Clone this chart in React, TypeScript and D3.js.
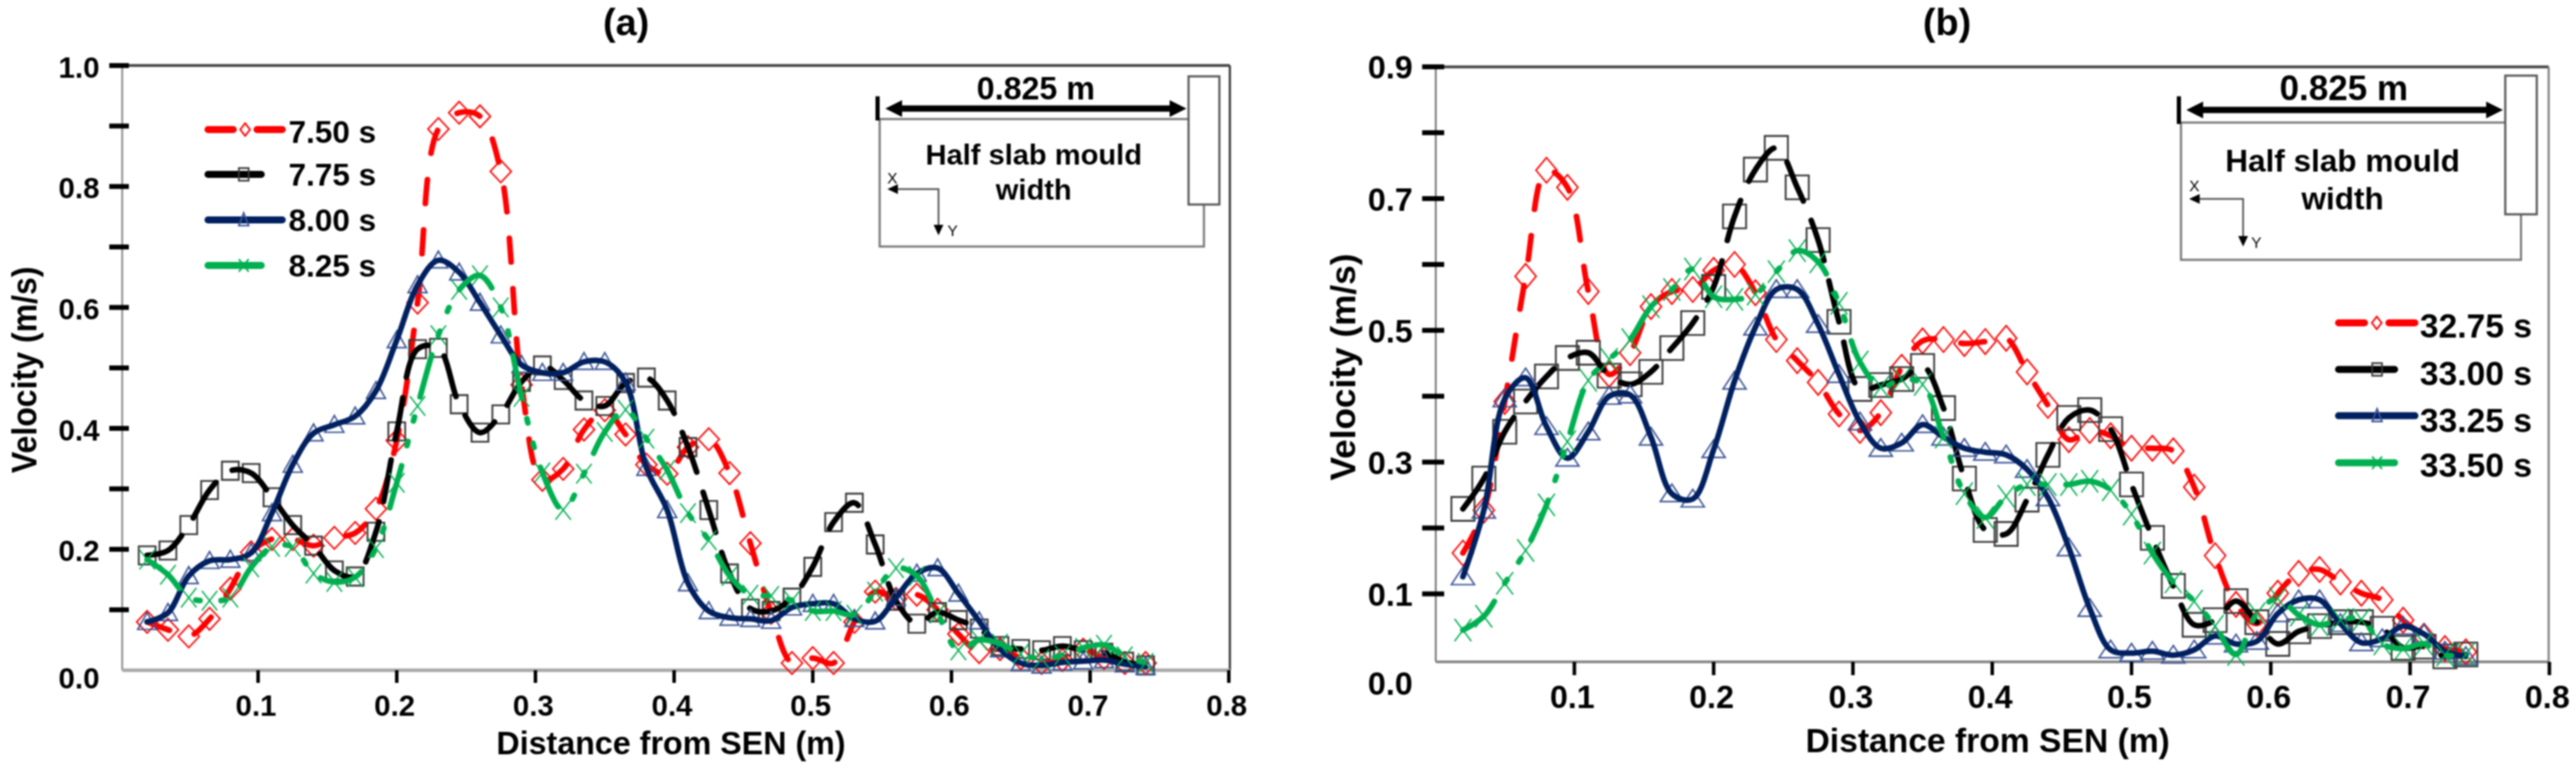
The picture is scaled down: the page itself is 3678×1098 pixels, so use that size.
import React from "react";
import * as d3 from "d3";

// ---------- data ----------
const distance = [0.02,0.035,0.05,0.065,0.08,0.095,0.11,0.125,0.14,0.155,0.17,0.185,0.2,0.215,0.23,0.245,0.26,0.275,0.29,0.305,0.32,0.335,0.35,0.365,0.38,0.395,0.41,0.425,0.44,0.455,0.47,0.485,0.5,0.515,0.53,0.545,0.56,0.575,0.59,0.605,0.62,0.635,0.65,0.665,0.68,0.695,0.71,0.725,0.74];

const a750 = [0.08,0.067,0.056,0.085,0.135,0.195,0.217,0.217,0.206,0.219,0.227,0.267,0.38,0.608,0.895,0.922,0.916,0.825,0.472,0.315,0.333,0.398,0.43,0.39,0.34,0.325,0.369,0.382,0.326,0.21,0.095,0.012,0.02,0.012,0.08,0.13,0.118,0.125,0.1,0.06,0.03,0.035,0.02,0.012,0.017,0.034,0.02,0.012,0.012];
const a775 = [0.19,0.198,0.24,0.298,0.33,0.326,0.286,0.24,0.206,0.165,0.155,0.229,0.395,0.531,0.533,0.44,0.393,0.423,0.477,0.504,0.48,0.446,0.437,0.475,0.484,0.446,0.369,0.265,0.16,0.102,0.098,0.12,0.171,0.245,0.277,0.208,0.115,0.077,0.096,0.083,0.069,0.04,0.035,0.033,0.04,0.033,0.029,0.014,0.008];
const a800 = [0.08,0.095,0.156,0.181,0.183,0.194,0.26,0.34,0.392,0.406,0.42,0.462,0.546,0.637,0.678,0.658,0.608,0.554,0.505,0.492,0.492,0.51,0.51,0.476,0.335,0.265,0.144,0.098,0.087,0.085,0.082,0.104,0.11,0.11,0.085,0.081,0.12,0.16,0.169,0.127,0.081,0.035,0.012,0.008,0.013,0.015,0.017,0.01,0.006];
const a825 = [0.183,0.158,0.12,0.115,0.12,0.17,0.204,0.204,0.16,0.146,0.154,0.202,0.31,0.437,0.554,0.629,0.653,0.6,0.452,0.327,0.265,0.325,0.394,0.431,0.383,0.331,0.26,0.215,0.156,0.125,0.123,0.115,0.098,0.098,0.092,0.13,0.169,0.156,0.094,0.033,0.05,0.044,0.027,0.019,0.025,0.037,0.042,0.023,0.012];

const b3275 = [0.162,0.227,0.392,0.582,0.743,0.717,0.559,0.433,0.466,0.536,0.559,0.562,0.591,0.6,0.557,0.486,0.454,0.421,0.373,0.348,0.375,0.444,0.484,0.486,0.48,0.483,0.488,0.437,0.386,0.334,0.348,0.34,0.321,0.321,0.317,0.262,0.158,0.084,0.055,0.101,0.131,0.137,0.118,0.101,0.091,0.06,0.036,0.017,0.012];
const b3300 = [0.229,0.275,0.346,0.392,0.43,0.458,0.466,0.431,0.418,0.437,0.473,0.511,0.566,0.673,0.744,0.777,0.717,0.637,0.513,0.411,0.417,0.426,0.446,0.382,0.275,0.197,0.191,0.243,0.311,0.367,0.379,0.35,0.266,0.185,0.112,0.053,0.06,0.089,0.057,0.024,0.043,0.051,0.057,0.057,0.047,0.018,0.02,0.005,0.008];
const b3325 = [0.126,0.227,0.396,0.428,0.354,0.306,0.346,0.4,0.402,0.338,0.252,0.244,0.319,0.423,0.505,0.562,0.562,0.509,0.433,0.361,0.321,0.329,0.357,0.338,0.321,0.315,0.311,0.289,0.246,0.17,0.078,0.015,0.01,0.013,0.007,0.015,0.036,0.024,0.028,0.07,0.091,0.091,0.055,0.026,0.032,0.051,0.039,0.013,0.005];
const b3350 = [0.045,0.066,0.116,0.166,0.235,0.331,0.424,0.456,0.486,0.536,0.562,0.593,0.551,0.547,0.555,0.589,0.621,0.604,0.541,0.452,0.414,0.426,0.418,0.338,0.252,0.216,0.248,0.266,0.266,0.266,0.271,0.258,0.221,0.162,0.118,0.089,0.051,0.008,0.07,0.093,0.068,0.053,0.061,0.061,0.024,0.017,0.024,0.007,0.008];

const xTicks = [0.1,0.2,0.3,0.4,0.5,0.6,0.7,0.8];
const aYTicks = [0.1,0.2,0.3,0.4,0.5,0.6,0.7,0.8,0.9,1.0];
const aYLabels = [0,0.2,0.4,0.6,0.8,1.0];
const bYTicks = [0.1,0.2,0.3,0.4,0.5,0.6,0.7,0.8,0.9];
const bYLabels = [0,0.1,0.3,0.5,0.7,0.9];
const aNames = ["7.50 s","7.75 s","8.00 s","8.25 s"];
const bNames = ["32.75 s","33.00 s","33.25 s","33.50 s"];

// ---------- styles ----------
const FONT = "'Liberation Sans', Arial, sans-serif";
type Kind = "diamond" | "square" | "triangle" | "cross";
const styles: { kind: Kind; line: string; mark: string; dash: string; mw: number }[] = [
  { kind: "diamond", line: "#ff0000", mark: "#ff0000", dash: "34 38", mw: 2.2 },
  { kind: "square", line: "#000000", mark: "#3a3a3a", dash: "60 30", mw: 2.6 },
  { kind: "triangle", line: "#002060", mark: "#3c5596", dash: "", mw: 2.2 },
  { kind: "cross", line: "#00b050", mark: "#00b050", dash: "62 30 6 30 6 30", mw: 2 },
];

function markerPath(kind: Kind, w: number, h: number) {
  const a = w / 2, b = h / 2;
  if (kind === "diamond") return `M0,${-b}L${a},0L0,${b}L${-a},0Z`;
  if (kind === "square") return `M${-a},${-b}H${a}V${b}H${-a}Z`;
  if (kind === "triangle") return `M0,${-b * 1.1}L${a},${b * 0.9}H${-a}Z`;
  return `M${-a},${-b}L${a},${b}M${a},${-b}L${-a},${b}`;
}

type Layout = {
  title: string; titleX: number;
  x0: number; x8: number; y0: number; yTop: number; yMax: number;
  axisX: number; axisY: number; rightX: number; topY: number;
  axisColor: string; axisW: number; bottomColor: string; bottomW: number; rightColor: string;
  tickL: [number, number]; tickB: number; tickW: number;
  fs: number; labelRight: number; zeroBase: number; xBase: number;
  yTicks: number[]; yLabels: number[]; series: number[][]; names: string[];
  xTitleX: number; xTitleBase: number; xTitleFs: number;
  yTitleX: number; yTitleY: number; yTitleFs: number; yTitleLen: number;
  legendLine: [number, number]; legendShort: number; legendTextX: number; legendFs: number;
  legendY: number[]; legendBase: number[]; legendMarkX: number;
  sizes: Record<Kind, [number, number]>;
  inset: {
    l: number; t: number; b: number; r: number; rx0: number; rx1: number; ry0: number; ry1: number;
    barTop: number; ay: number; ax0: number; ax1: number; tx: number; t1: number; t2: number; t3: number; t2x: number; fs: number; fsTop: number;
    xx: number; xBase: number; cy: number; cx: number; hx: number; hy: number; yx: number; yBase: number;
  };
};

const layoutA: Layout = {
  title: "(a)", titleX: 894,
  x0: 170.5, x8: 1754.5, y0: 957, yTop: 93.6, yMax: 1.0,
  axisX: 174.5, axisY: 957, rightX: 1756, topY: 93.6,
  axisColor: "#9a9a9a", axisW: 3, bottomColor: "#a8a8a8", bottomW: 5, rightColor: "#333",
  tickL: [156, 184], tickB: 975, tickW: 5,
  fs: 42, labelRight: 142, zeroBase: 983, xBase: 1022,
  yTicks: aYTicks, yLabels: aYLabels, series: [a750, a775, a800, a825], names: aNames,
  xTitleX: 958, xTitleBase: 1077, xTitleFs: 46,
  yTitleX: 34, yTitleY: 528, yTitleFs: 50, yTitleLen: 295,
  legendLine: [297, 403], legendShort: 373, legendTextX: 412, legendFs: 45,
  legendY: [185, 249, 314, 379], legendBase: [204, 265, 330, 395], legendMarkX: 348,
  sizes: { diamond: [30, 32], square: [24, 26], triangle: [27, 24], cross: [22, 28] },
  inset: { l: 1256, t: 170, b: 352, r: 1718, rx0: 1697, rx1: 1741, ry0: 109, ry1: 292, barTop: 137.5, ay: 155, ax0: 1264, ax1: 1694, tx: 1479, t1: 142, t2: 235, t3: 285, t2x: 1476, fs: 41.5, fsTop: 46, xx: 1274, xBase: 262, cy: 270, cx: 1340, hx: 1267, hy: 336, yx: 1360, yBase: 337 },
};

const layoutB: Layout = {
  title: "(b)", titleX: 2780,
  x0: 2049, x8: 3640, y0: 942, yTop: 95.4, yMax: 0.9,
  axisX: 2050, axisY: 945, rightX: 3639, topY: 95.4,
  axisColor: "#707070", axisW: 2.5, bottomColor: "#8a8a8a", bottomW: 4, rightColor: "#808080",
  tickL: [2030.5, 2062], tickB: 964, tickW: 5,
  fs: 46, labelRight: 2017, zeroBase: 992, xBase: 1011,
  yTicks: bYTicks, yLabels: bYLabels, series: [b3275, b3300, b3325, b3350], names: bNames,
  xTitleX: 2838, xTitleBase: 1074, xTitleFs: 48,
  yTitleX: 1917, yTitleY: 524, yTitleFs: 50, yTitleLen: 324,
  legendLine: [3339, 3448], legendShort: 3419, legendTextX: 3455, legendFs: 48,
  legendY: [461, 527.5, 593.6, 660.7], legendBase: [482, 550, 617, 681], legendMarkX: 3394,
  sizes: { diamond: [30, 36], square: [33, 34], triangle: [33, 25], cross: [24, 32] },
  inset: { l: 3114, t: 175, b: 371, r: 3598, rx0: 3577, rx1: 3622, ry0: 108, ry1: 306, barTop: 137.5, ay: 157, ax0: 3121.6, ax1: 3573.7, tx: 3346.5, t1: 143, t2: 245, t3: 299, t2x: 3344.7, fs: 45, fsTop: 50, xx: 3133, xBase: 273, cy: 284, cx: 3202.7, hx: 3125.7, hy: 352, yx: 3221.6, yBase: 354 },
};

function Inset({ s }: { s: Layout["inset"] }) {
  const c = "#777";
  return (
    <g fontFamily={FONT} textAnchor="middle">
      <path d={`M${s.l},${s.t}H${s.rx0}M${s.l},${s.t}V${s.b}H${(s.rx0 + s.rx1) / 2}V${s.ry1}`} fill="none" stroke={c} strokeWidth={3} />
      <rect x={s.rx0} y={s.ry0} width={s.rx1 - s.rx0} height={s.ry1 - s.ry0} fill="#fff" stroke="#555" strokeWidth={3} />
      <line x1={s.l - 3} x2={s.l - 3} y1={s.barTop} y2={s.t + 2} stroke="#000" strokeWidth={6} />
      <line x1={s.ax0 + 18} x2={s.ax1 - 18} y1={s.ay} y2={s.ay} stroke="#000" strokeWidth={9} />
      <path d={`M${s.ax0},${s.ay}l24,-12v24ZM${s.ax1},${s.ay}l-24,-12v24Z`} fill="#000" />
      <text x={s.tx} y={s.t1} fontSize={s.fsTop} fontWeight={700}>0.825 m</text>
      <text x={s.t2x} y={s.t2} fontSize={s.fs} fontWeight={700}>Half slab mould</text>
      <text x={s.t2x} y={s.t3} fontSize={s.fs} fontWeight={700}>width</text>
      <text x={s.xx} y={s.xBase} fontSize={22}>X</text>
      <path d={`M${s.hx + 12},${s.cy}H${s.cx}V${s.hy - 12}`} fill="none" stroke="#555" strokeWidth={2.5} />
      <path d={`M${s.hx},${s.cy}l15,-7v14ZM${s.cx},${s.hy}l-7,-15h14Z`} fill="#000" />
      <text x={s.yx} y={s.yBase} fontSize={22}>Y</text>
    </g>
  );
}

function Panel({ p }: { p: Layout }) {
  const x = d3.scaleLinear().domain([0, 0.8]).range([p.x0, p.x8]);
  const y = d3.scaleLinear().domain([0, p.yMax]).range([p.y0, p.yTop]);
  const line = d3.line<number>()
    .x((_, i) => x(distance[i]))
    .y((d) => y(d))
    .curve(d3.curveCatmullRom.alpha(0.5));
  return (
    <g fontFamily={FONT} fill="#000">
      <text x={p.titleX} y={50} fontSize={54} fontWeight={700} textAnchor="middle">{p.title}</text>

      <line x1={p.axisX} x2={p.rightX} y1={p.topY} y2={p.topY} stroke="#444" strokeWidth={4} />
      <line x1={p.rightX} x2={p.rightX} y1={p.topY} y2={p.axisY} stroke={p.rightColor} strokeWidth={3} />
      <line x1={p.axisX} x2={p.axisX} y1={p.topY} y2={p.axisY} stroke={p.axisColor} strokeWidth={p.axisW} />
      <line x1={p.axisX} x2={p.rightX} y1={p.axisY} y2={p.axisY} stroke={p.bottomColor} strokeWidth={p.bottomW} />

      {p.yTicks.map((t) => (
        <line key={t} x1={p.tickL[0]} x2={p.tickL[1]} y1={y(t)} y2={y(t)} stroke="#000" strokeWidth={7} />
      ))}
      {xTicks.map((t) => (
        <g key={t}>
          <line x1={x(t)} x2={x(t)} y1={p.axisY} y2={p.tickB} stroke="#000" strokeWidth={p.tickW} />
          <text x={x(t) - 3} y={p.xBase} fontSize={p.fs} fontWeight={700} textAnchor="middle">{t.toFixed(1)}</text>
        </g>
      ))}
      {p.yLabels.map((t) => (
        <text key={t} x={p.labelRight} y={t === 0 ? p.zeroBase : y(t) + 17} fontSize={p.fs} fontWeight={700} textAnchor="end">{t.toFixed(1)}</text>
      ))}

      <text x={p.xTitleX} y={p.xTitleBase} fontSize={p.xTitleFs} fontWeight={700} textAnchor="middle">Distance from SEN (m)</text>
      <text transform={`translate(${p.yTitleX + p.yTitleFs * 0.36},${p.yTitleY}) rotate(-90)`} fontSize={p.yTitleFs} fontWeight={700} textAnchor="middle" textLength={p.yTitleLen} lengthAdjust="spacingAndGlyphs">Velocity (m/s)</text>

      {p.series.map((vals, k) => {
        const st = styles[k];
        const [w, h] = p.sizes[st.kind];
        const mark = markerPath(st.kind, w, h);
        return (
          <g key={k}>
            <g fill="none" stroke={st.mark} strokeWidth={st.mw}>
              {vals.map((v, i) => (
                <path key={i} d={mark} transform={`translate(${x(distance[i])},${y(v)})`} />
              ))}
            </g>
            <path d={line(vals) ?? ""} fill="none" stroke={st.line} strokeWidth={8} strokeDasharray={st.dash || undefined} strokeLinecap="round" strokeLinejoin="round" />
          </g>
        );
      })}

      {p.names.map((name, k) => {
        const st = styles[k];
        const end = st.kind === "square" || st.kind === "cross" ? p.legendShort : p.legendLine[1];
        const ly = p.legendY[k];
        const [lx0, lx1] = p.legendLine;
        const mx = st.kind === "diamond" ? (lx0 + lx1) / 2 : p.legendMarkX;
        return (
          <g key={name}>
            {st.kind === "diamond" ? (
              <path d={`M${lx0},${ly}H${lx0 + (lx1 - lx0) * 0.34}M${lx1 - (lx1 - lx0) * 0.34},${ly}H${lx1}`} stroke={st.line} strokeWidth={10} strokeLinecap="round" fill="none" />
            ) : (
              <line x1={lx0} x2={end} y1={ly} y2={ly} stroke={st.line} strokeWidth={10} strokeLinecap="round" />
            )}
            <path d={markerPath(st.kind, 14, 18)} transform={`translate(${mx},${ly})`} fill="none" stroke={st.mark} strokeWidth={2.4} />
            <text x={p.legendTextX} y={p.legendBase[k]} fontSize={p.legendFs} fontWeight={700}>{name}</text>
          </g>
        );
      })}

      <Inset s={p.inset} />
    </g>
  );
}

export default function App() {
  return (
    <svg width={3678} height={1098} viewBox="0 0 3678 1098" style={{ position: "absolute", left: 0, top: 0, display: "block", background: "#fff" }}>
      <g style={{ filter: "blur(1px)" }}>
        <Panel p={layoutA} />
        <Panel p={layoutB} />
      </g>
    </svg>
  );
}
